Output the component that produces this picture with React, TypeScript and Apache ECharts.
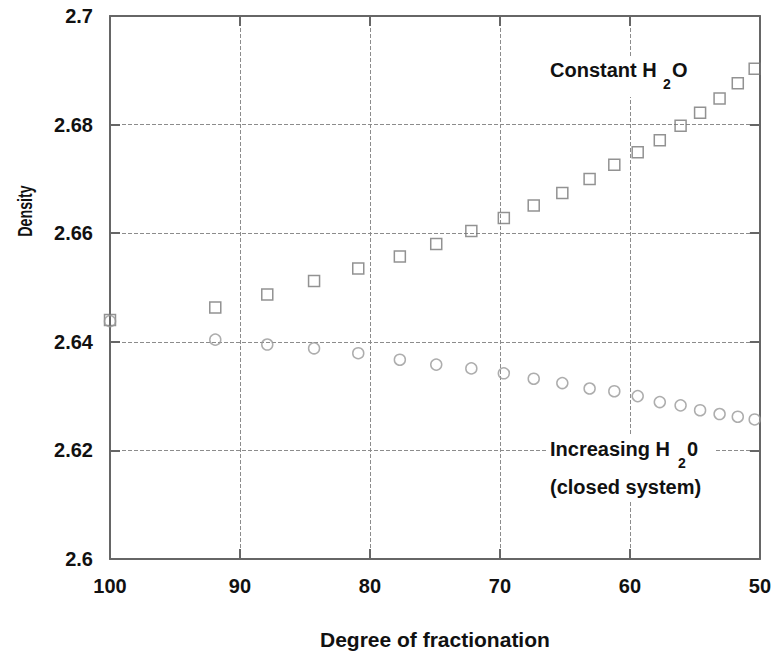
import React, { useEffect, useRef } from "react";
import * as echarts from "echarts";

const xTicks = [100, 90, 80, 70, 60, 50];
const yTicks = ["2.6", "2.62", "2.64", "2.66", "2.68", "2.7"];
const fractionation = [100, 91.9, 87.9, 84.3, 80.9, 77.7, 74.9, 72.2, 69.7, 67.4, 65.2, 63.1, 61.2, 59.4, 57.7, 56.1, 54.6, 53.1, 51.7, 50.4];
const constantH2O = [2.644, 2.6463, 2.6487, 2.6512, 2.6535, 2.6557, 2.658, 2.6604, 2.6628, 2.6651, 2.6674, 2.67, 2.6726, 2.6749, 2.6771, 2.6798, 2.6822, 2.6848, 2.6876, 2.6903];
const increasingH2O = [2.6438, 2.6404, 2.6395, 2.6388, 2.6379, 2.6367, 2.6358, 2.6351, 2.6342, 2.6332, 2.6324, 2.6314, 2.6309, 2.63, 2.6289, 2.6283, 2.6274, 2.6267, 2.6262, 2.6257];

const FONT = 'Arial, "Liberation Sans", sans-serif';
const TXT = "#111";
const AX = "#666";

export default function App() {
  const ref = useRef<HTMLDivElement>(null);
  useEffect(() => {
    document.body.style.margin = "0";
    const chart = echarts.init(ref.current!, null, { renderer: "svg" });
    const xMin = Math.min(...xTicks);
    const xMax = Math.max(...xTicks);
    const yMin = parseFloat(yTicks[0]);
    const yMax = parseFloat(yTicks[yTicks.length - 1]);
    const labelStyle = { fontSize: 20, fontWeight: "bold" as const, color: TXT, fontFamily: FONT };
    const split = { show: true, showMinLine: false, showMaxLine: false, lineStyle: { color: "#8c8c8c", type: [4, 2], width: 1 } };
    const tick = { show: true, inside: true, length: 10, lineStyle: { color: AX, width: 2 } };
    const line = { show: true, onZero: false, lineStyle: { color: AX, width: 2 } };
    const txt = (text: string, x: number, y: number, size = 20) => ({
      type: "text", x, y, z: 2,
      style: { text, fill: TXT, font: `bold ${size}px ${FONT}`, align: "left", verticalAlign: "middle" },
    });
    chart.setOption({
      animation: false,
      backgroundColor: "#fff",
      grid: { left: 110, right: 13, top: 16, bottom: 95, containLabel: false },
      xAxis: [
        {
          type: "value", min: xMin, max: xMax, interval: 10, inverse: true, position: "bottom",
          axisLine: line, axisTick: tick, splitLine: split,
          axisLabel: { ...labelStyle, margin: 17 },
          name: "Degree of fractionation", nameLocation: "middle", nameGap: 70,
          nameTextStyle: { fontSize: 21, fontWeight: "bold", color: TXT, fontFamily: FONT },
        },
        {
          type: "value", min: xMin, max: xMax, interval: 10, inverse: true, position: "top",
          axisLine: line, axisTick: tick, splitLine: { show: false }, axisLabel: { show: false },
        },
      ],
      yAxis: [
        {
          type: "value", min: yMin, max: yMax, interval: 0.02, position: "left",
          axisLine: line, axisTick: tick, splitLine: split,
          axisLabel: { ...labelStyle, margin: 17, formatter: (v: number) => String(parseFloat(v.toFixed(2))) },
        },
        {
          type: "value", min: yMin, max: yMax, interval: 0.02, position: "right",
          axisLine: line, axisTick: tick, splitLine: { show: false }, axisLabel: { show: false },
        },
      ],
      graphic: [
        { type: "rect", z: 1, shape: { x: 546, y: 57, width: 148, height: 40 }, style: { fill: "#fff" } },
        { type: "rect", z: 1, shape: { x: 547, y: 435, width: 169, height: 66 }, style: { fill: "#fff" } },
        txt("Constant H", 550, 70),
        txt("2", 663, 84, 14),
        txt("O", 672, 70),
        txt("Increasing H", 550, 449),
        txt("2", 678, 463, 14),
        txt("0", 687, 449),
        txt("(closed system)", 550, 487),
        {
          type: "text", x: 25, y: 211, rotation: Math.PI / 2, scaleX: 0.68, z: 2,
          style: { text: "Density", fill: TXT, font: `bold 21px ${FONT}`, align: "center", verticalAlign: "middle" },
        },
      ],
      series: [
        {
          type: "scatter", name: "Constant H2O", clip: false, symbol: "rect", symbolSize: 11,
          itemStyle: { color: "rgba(255,255,255,0)", borderColor: "#777", borderWidth: 1.5 },
          data: fractionation.map((x, i) => [x, constantH2O[i]]),
        },
        {
          type: "scatter", name: "Increasing H20", clip: false, symbol: "circle", symbolSize: 11,
          itemStyle: { color: "rgba(255,255,255,0)", borderColor: "#999", borderWidth: 1.5 },
          data: fractionation.map((x, i) => [x, increasingH2O[i]]),
        },
      ],
    });
    return () => chart.dispose();
  }, []);
  return <div ref={ref} style={{ width: 774, height: 655 }} />;
}
